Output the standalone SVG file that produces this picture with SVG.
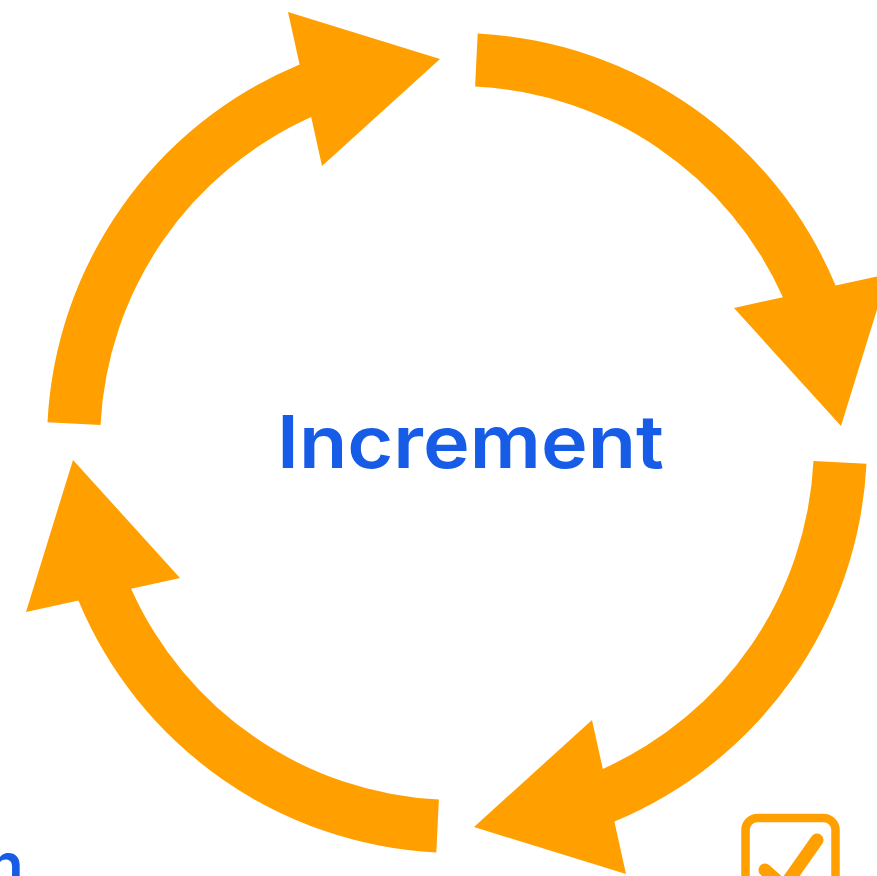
<svg xmlns="http://www.w3.org/2000/svg" width="877" height="876" viewBox="0 0 877 876">
<defs>
<style>
.arr{fill:#FF9F00;}
.lbl{font-family:Inter,"Open Sans","Liberation Sans",sans-serif;font-weight:600;fill:#175CE6;}
.icon{fill:none;stroke:#FF9F00;}
</style>
<path id="arrowShape" d="M 100.5 424.9 L 47.5 422.3 A 410 410 0 0 1 299.6 64.4 L 288 12 L 440 59 L 322 166 L 311.2 117.1 A 357 357 0 0 0 100.5 424.9 Z"/>
</defs>
<rect width="877" height="876" fill="#FFFFFF"/>
<g id="connectors">
<use href="#arrowShape" class="arr"/>
<use href="#arrowShape" class="arr" transform="rotate(90 457 443)"/>
<use href="#arrowShape" class="arr" transform="rotate(180 457 443)"/>
<use href="#arrowShape" class="arr" transform="rotate(270 457 443)"/>
</g>
<g id="center-label">
<text class="lbl" x="277" y="468" font-size="73" textLength="387" lengthAdjust="spacingAndGlyphs">Increment</text>
</g>
<g id="bottom-left-text">
<text class="lbl" x="-13" y="886" font-size="60">n</text>
</g>
<g id="checkbox-icon">
<rect class="icon" x="745.5" y="818" width="90" height="120" rx="12" stroke-width="8.5"/>
<line class="icon" x1="817" y1="840" x2="786" y2="884" stroke-width="13" stroke-linecap="round"/>
<line class="icon" x1="765" y1="870" x2="783" y2="886" stroke-width="13" stroke-linecap="round"/>
</g>
</svg>
